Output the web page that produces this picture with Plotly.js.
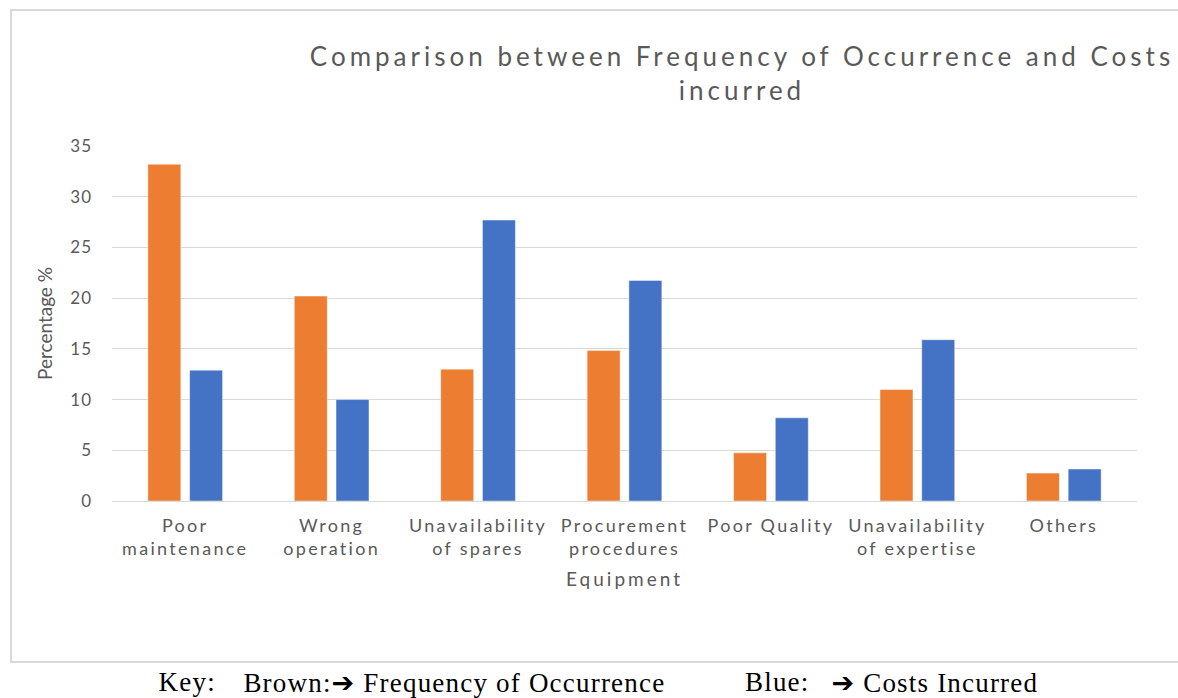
<!DOCTYPE html>
<html>
<head>
<meta charset="utf-8">
<script src="https://cdn.plot.ly/plotly-3.0.1.min.js"></script>
<style>
  html, body { margin: 0; padding: 0; background: #ffffff; }
  #chart { width: 1178px; height: 698px; }
  #chart .gtitle { letter-spacing: 4px; }
  #chart .xtick text { letter-spacing: 2.3px; }
  #chart .ytick text { letter-spacing: 1px; }
  #chart .xtitle { letter-spacing: 3px; }
  #chart .annotation-text { letter-spacing: 1.2px; }
</style>
</head>
<body>
<div id="chart"></div>
<script>
// ---- data ----
const categories = [
  "Poor<br>maintenance",
  "Wrong<br>operation",
  "Unavailability<br>of spares",
  "Procurement<br>procedures",
  "Poor Quality",
  "Unavailability<br>of expertise",
  "Others"
];
const frequencyOfOccurrence = [33.2, 20.2, 13.0, 14.85, 4.75, 11.0, 2.75];
const costsIncurred = [12.9, 10.0, 27.7, 21.75, 8.2, 15.9, 3.15];
const yTicks = [0, 5, 10, 15, 20, 25, 30, 35];

const titleText = "Comparison between Frequency of Occurrence and Costs<br>incurred";
const arrow = "<span style='font-family:DejaVu Sans'>\u2794</span>";
const keyParts = [
  {text: "Key:", px: 187},
  {text: "Brown:" + arrow + " Frequency of Occurrence", px: 454},
  {text: "Blue:", px: 777},
  {text: arrow + " Costs Incurred", px: 935}
];

// ---- layout geometry ----
const W = 1178, H = 698;
const plotL = 112, plotR = 1137, plotT = 146, plotB = 501;
const pw = plotR - plotL, ph = plotB - plotT;
const px2x = p => (p - plotL) / pw;
const py2y = p => (plotB - p) / ph;

const grey = "#595959";
const font = "Lato, 'Open Sans', sans-serif";

const traces = [
  {
    type: "bar",
    name: "Frequency of Occurrence",
    x: categories,
    y: frequencyOfOccurrence,
    marker: {color: "#ED7D31", line: {color: "rgba(255,255,255,0.45)", width: 1}},
    hoverinfo: "x+y+name"
  },
  {
    type: "bar",
    name: "Costs Incurred",
    x: categories,
    y: costsIncurred,
    marker: {color: "#4472C4", line: {color: "rgba(255,255,255,0.45)", width: 1}},
    hoverinfo: "x+y+name"
  }
];

const annotations = keyParts.map(k => ({
  text: k.text,
  xref: "paper", yref: "paper",
  x: px2x(k.px), y: py2y(682),
  xanchor: "center", yanchor: "middle",
  showarrow: false,
  borderpad: 0,
  font: {family: "'Liberation Serif', 'Times New Roman', serif", size: 27, color: "#000000"}
}));

const layout = {
  width: W, height: H,
  paper_bgcolor: "#ffffff",
  plot_bgcolor: "#ffffff",
  margin: {l: plotL, r: W - plotR, t: plotT, b: H - plotB, pad: 0},
  showlegend: false,
  barmode: "group",
  bargap: 0.43,
  bargroupgap: 0.21,
  title: {
    text: titleText,
    font: {family: font, size: 26, color: grey},
    xref: "container", yref: "container",
    x: 742 / W, xanchor: "center",
    y: 1 - 66 / H, yanchor: "top"
  },
  xaxis: {
    type: "category",
    tickfont: {family: font, size: 18, color: grey},
    showgrid: false,
    showline: false,
    ticks: "",
    ticklabelstandoff: 12,
    title: {text: "Equipment", font: {family: font, size: 19, color: grey}, standoff: 14},
    automargin: false
  },
  yaxis: {
    range: [0, 35],
    tickvals: yTicks,
    ticktext: yTicks.map(String),
    tickfont: {family: font, size: 17, color: grey},
    showgrid: true,
    gridcolor: "#d9d9d9",
    gridwidth: 1,
    zeroline: true,
    zerolinecolor: "#d9d9d9",
    zerolinewidth: 1,
    showline: false,
    ticks: "",
    ticklabelstandoff: 19,
    title: {text: "Percentage %", font: {family: font, size: 19, color: grey}, standoff: 14},
    automargin: false
  },
  shapes: [
    {
      type: "rect", xref: "paper", yref: "paper",
      x0: px2x(11), x1: px2x(1185), y0: py2y(662), y1: py2y(10),
      line: {color: "#d9d9d9", width: 2},
      fillcolor: "rgba(0,0,0,0)",
      layer: "below"
    }
  ],
  annotations: annotations
};

Plotly.newPlot("chart", traces, layout, {displayModeBar: false, staticPlot: true});
</script>
</body>
</html>
